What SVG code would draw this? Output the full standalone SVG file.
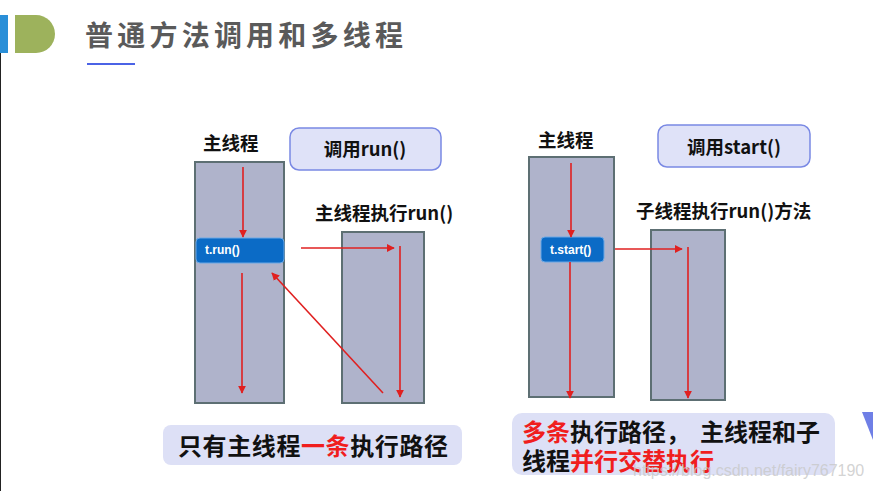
<svg xmlns="http://www.w3.org/2000/svg" width="873" height="491" viewBox="0 0 873 491">
<defs>
<style>
.cjk{font-family:"Noto Sans CJK SC","Liberation Sans",sans-serif;font-weight:700}
.lbl{font-size:18.5px;fill:#111}
.thread{fill:#afb3cb;stroke:#5d6f73;stroke-width:2}
.btn{fill:#dfe2f8;stroke:#7a89e4;stroke-width:1.5}
.call{fill:#0b6bc6;stroke:#6aa8e6;stroke-width:1}
.calltxt{font-family:"Liberation Sans",Arial,sans-serif;font-weight:700;font-size:12px;fill:#fff}
.arr{stroke:#e02020;stroke-width:1.6;fill:none;marker-end:url(#ah)}
.cap{fill:#dde0f6}
.red{fill:#f01e1e}
</style>
<marker id="ah" viewBox="0 0 10 10" refX="9" refY="5" markerWidth="5" markerHeight="5" orient="auto" markerUnits="strokeWidth">
<path d="M0,0 L10,5 L0,10 z" fill="#e02020"/>
</marker>
</defs>
<rect width="873" height="491" fill="#fff"/>
<line x1="0.5" y1="15" x2="0.5" y2="491" stroke="#222" stroke-width="1"/>
<g id="header">
<rect x="0" y="15" width="8" height="38" fill="#2a8fd8"/>
<path d="M15,15 H36 A19,19 0 0 1 36,53 H15 Z" fill="#9db25c"/>
<text x="85" y="46" class="cjk" font-size="28" fill="#5a5a5a" textLength="318" lengthAdjust="spacing">普通方法调用和多线程</text>
<line x1="87" y1="64" x2="135" y2="64" stroke="#4b63e6" stroke-width="2"/>
</g>
<g id="left-main">
<rect class="thread" x="195" y="162" width="89" height="241"/>
<text class="cjk lbl" x="203" y="150" font-size="19.5">主线程</text>
</g>
<g id="left-call-btn">
<rect class="btn" x="290" y="128" width="151" height="42" rx="9"/>
<text class="cjk lbl" x="365" y="156" text-anchor="middle">调用run()</text>
</g>
<g id="left-child">
<rect class="thread" x="342" y="232" width="82" height="171"/>
<text class="cjk lbl" x="315" y="220">主线程执行run()</text>
</g>
<g id="trun">
<rect class="call" x="196" y="238" width="88" height="25" rx="4"/>
<text class="calltxt" x="205" y="254">t.run()</text>
</g>
<g id="right-main">
<rect class="thread" x="529" y="157" width="85" height="240"/>
<text class="cjk lbl" x="538" y="147" font-size="19.5">主线程</text>
</g>
<g id="right-call-btn">
<rect class="btn" x="658" y="125" width="152" height="42" rx="9"/>
<text class="cjk lbl" x="734" y="154" text-anchor="middle">调用start()</text>
</g>
<g id="right-child">
<rect class="thread" x="651" y="230" width="74" height="170"/>
<text class="cjk lbl" x="636" y="218">子线程执行run()方法</text>
</g>
<g id="tstart">
<rect class="call" x="541" y="237" width="63" height="25" rx="4"/>
<text class="calltxt" x="550" y="254">t.start()</text>
</g>
<g id="connectors">
<line class="arr" x1="243" y1="167" x2="243" y2="237"/>
<line class="arr" x1="242" y1="273" x2="242" y2="393"/>
<line class="arr" x1="301" y1="248" x2="394" y2="248"/>
<line class="arr" x1="400" y1="246" x2="400" y2="397"/>
<line class="arr" x1="383" y1="393" x2="272" y2="273"/>
<line class="arr" x1="571" y1="163" x2="571" y2="237"/>
<line class="arr" x1="570" y1="262" x2="570" y2="398"/>
<line class="arr" x1="615" y1="249" x2="682" y2="249"/>
<line class="arr" x1="688" y1="247" x2="688" y2="398"/>
</g>
<g id="left-caption">
<rect class="cap" x="163" y="425" width="299" height="40" rx="8"/>
<text class="cjk" x="178" y="455" font-size="24" fill="#111" textLength="270" lengthAdjust="spacing">只有主线程<tspan class="red">一条</tspan>执行路径</text>
</g>
<g id="right-caption">
<rect class="cap" x="512" y="413" width="323" height="62" rx="10"/>
<text class="cjk" x="522" y="441" font-size="24" fill="#111"><tspan class="red">多条</tspan>执行路径，<tspan dx="10">主线程和子</tspan></text>
<text class="cjk" x="522" y="470" font-size="24" fill="#111">线程<tspan class="red">并行交替执行</tspan></text>
</g>
<text x="633" y="476" font-family="Liberation Sans,Arial,sans-serif" font-size="16" fill="#c8c8c8" fill-opacity="0.8">https://blog.csdn.net/fairy767190</text>
<path d="M862,412 L873,412 L873,440 Z" fill="#6f7fe6"/>
</svg>
